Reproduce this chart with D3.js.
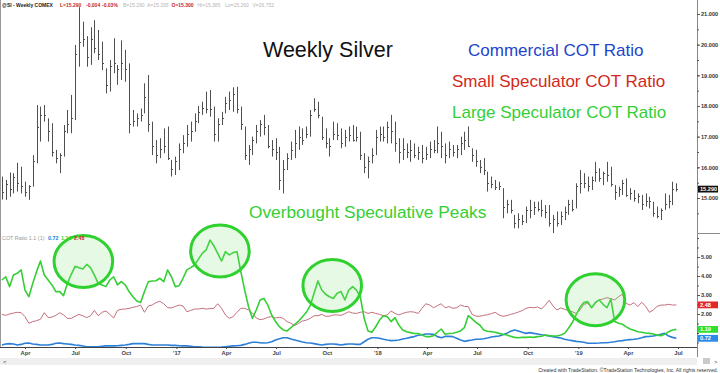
<!DOCTYPE html>
<html>
<head>
<meta charset="utf-8">
<script src="https://cdn.jsdelivr.net/npm/d3@7"></script>
<style>
  body { margin: 0; background: #fff; }
  svg { display: block; font-family: "Liberation Sans", Arial, sans-serif; }
</style>
</head>
<body>
<div id="chart"></div>
<script>
// weekly bars, Friday to Friday
const firstWeek = "2016-02-19";
const lastWeek = "2019-06-28";

const highs = [15.70,15.59,15.83,15.81,16.15,16.02,15.53,15.42,16.40,18.03,17.98,18.03,17.60,17.44,16.57,16.46,17.38,17.87,18.36,19.99,
  21.22,20.75,20.28,20.57,20.80,20.48,20.10,19.23,19.50,20.21,19.34,20.14,19.83,19.39,17.87,17.76,17.92,18.74,19.01,17.49,
  16.89,16.95,17.27,17.33,16.24,16.35,16.78,17.05,17.38,17.49,17.76,18.00,18.14,18.47,18.52,17.98,17.60,17.81,18.30,18.47,
  18.61,18.63,17.98,17.33,16.73,17.00,17.38,17.54,17.71,17.38,16.89,16.95,16.67,16.24,16.46,16.84,17.22,17.33,17.27,17.33,
  17.87,18.25,18.14,17.65,17.27,16.95,17.49,17.44,17.27,17.22,17.33,17.38,17.33,17.16,16.46,16.35,16.62,17.22,17.33,17.33,
  17.49,17.71,17.49,16.95,16.95,16.78,16.89,16.78,16.67,16.73,16.67,16.84,16.89,17.33,17.16,16.78,16.84,16.73,16.73,17.00,
  17.16,17.33,16.62,16.57,16.24,16.30,15.86,15.70,15.59,15.53,15.32,14.94,14.94,14.45,14.50,14.45,14.72,14.94,14.88,14.88,
  14.94,14.77,14.77,14.45,14.56,14.56,14.72,14.94,14.94,15.48,15.91,15.81,15.70,15.70,16.18,15.97,15.86,16.18,16.02,15.42,
  15.37,15.59,15.64,15.32,15.26,15.15,15.10,15.15,15.04,14.88,14.72,14.66,15.15,15.10,15.53,15.48];
const lows = [14.95,14.94,15.04,15.15,15.21,15.15,15.04,14.94,15.37,16.13,16.84,17.49,16.84,16.35,16.13,15.81,16.35,17.11,17.11,17.54,
  19.28,19.93,19.28,19.34,19.72,19.50,19.17,18.41,18.47,19.07,18.69,18.85,18.79,17.11,17.33,17.33,17.49,17.76,17.16,16.40,
  16.13,16.30,16.46,16.24,15.70,15.75,15.91,16.46,16.67,16.84,17.16,17.44,17.71,17.76,17.65,16.84,16.84,17.38,17.76,17.87,
  17.81,17.76,17.22,16.24,16.08,16.40,16.78,17.00,17.05,16.62,16.35,16.24,15.26,15.15,15.91,16.24,16.30,16.57,16.73,16.95,
  17.00,17.81,17.60,16.89,16.62,16.35,16.89,16.89,16.62,16.67,16.84,16.84,16.84,16.24,15.81,15.64,16.13,16.40,16.84,16.84,
  16.78,16.78,16.51,16.13,16.24,16.30,16.18,16.30,16.24,16.13,16.24,16.30,16.46,16.46,16.30,16.13,16.30,16.35,16.30,16.40,
  16.57,16.67,16.18,16.02,15.81,15.75,15.21,15.32,15.26,15.26,14.34,14.50,14.50,14.01,14.01,14.12,14.18,14.34,14.45,14.56,
  14.39,14.34,14.07,13.85,14.07,14.12,14.28,14.45,14.56,14.66,15.15,15.32,15.21,15.26,15.53,15.53,15.42,15.53,15.37,14.94,
  15.04,15.10,15.04,14.94,14.88,14.83,14.61,14.72,14.66,14.39,14.34,14.28,14.61,14.66,14.77,15.21];
const closes = [15.20,15.45,15.30,15.70,15.50,15.40,15.20,15.40,16.20,17.30,17.70,17.70,17.20,16.50,16.30,16.40,17.20,17.40,17.60,19.70,
  20.10,20.20,19.60,20.20,19.90,19.70,19.40,18.70,19.30,19.40,19.20,19.40,19.20,17.40,17.50,17.60,17.70,18.30,17.40,16.70,
  16.40,16.60,16.70,16.30,15.95,16.20,16.60,16.80,17.10,17.20,17.50,17.80,17.95,17.90,17.90,17.10,17.40,17.60,18.10,18.20,
  18.40,17.90,17.40,16.40,16.60,16.90,17.20,17.40,17.30,16.70,16.60,16.50,15.60,15.95,16.30,16.55,16.80,17.00,16.90,17.10,
  17.70,17.90,17.70,17.00,16.80,16.70,17.10,17.05,16.80,17.00,17.05,16.90,17.00,16.40,16.00,16.20,16.40,17.00,17.10,17.00,
  17.30,17.20,16.80,16.50,16.60,16.50,16.55,16.40,16.50,16.30,16.45,16.60,16.55,16.80,16.70,16.40,16.60,16.50,16.60,16.80,
  16.90,16.70,16.40,16.20,16.00,15.90,15.50,15.45,15.35,15.40,14.70,14.80,14.60,14.20,14.30,14.25,14.60,14.60,14.70,14.65,
  14.60,14.55,14.20,14.30,14.20,14.40,14.55,14.80,14.65,15.40,15.50,15.50,15.40,15.60,15.85,15.65,15.80,15.75,15.45,15.20,
  15.30,15.50,15.10,15.15,15.00,15.05,14.80,14.90,14.90,14.50,14.40,14.60,14.80,14.90,15.30,15.29];

// COT ratios
const largeSpec = [3.79,3.96,3.44,4.05,4.14,4.32,3.26,2.91,3.61,4.23,4.79,4.05,3.79,3.53,3.18,3.18,2.97,3.61,4.09,4.51,
  4.44,4.37,4.61,4.44,4.05,3.61,3.53,3.44,3.79,3.96,3.53,3.70,3.53,3.18,2.91,2.68,2.61,3.18,3.70,3.74,
  3.75,3.88,3.70,4.32,3.96,3.44,3.49,3.88,4.32,4.44,4.58,4.89,5.19,5.37,5.89,5.59,5.19,4.79,5.28,5.11,
  5.23,5.28,4.23,3.26,2.38,1.77,2.21,2.74,2.82,2.47,1.95,1.60,1.33,1.16,1.11,1.28,1.46,1.63,1.86,2.09,
  2.44,3.09,3.74,3.26,3.04,2.91,2.82,3.09,3.18,2.74,3.26,3.44,3.26,2.91,1.77,1.11,1.04,1.33,1.68,1.91,
  1.86,1.60,1.81,1.42,1.16,1.07,1.02,0.97,0.97,0.90,0.81,0.81,0.86,1.04,1.21,0.93,0.97,0.99,1.04,1.11,
  1.28,1.91,1.74,1.56,1.42,1.16,1.09,1.07,1.04,0.98,0.93,0.89,0.83,0.77,0.75,0.77,0.77,0.79,0.77,0.81,
  0.83,0.89,0.86,0.84,0.84,0.89,0.98,1.25,1.55,1.95,2.35,2.60,2.65,2.33,2.61,2.74,2.51,2.33,2.79,1.60,
  1.51,1.46,1.32,1.21,1.14,1.07,1.04,1.00,0.98,0.95,0.89,0.86,0.93,1.07,1.16,1.19];
const smallSpec = [1.98,1.93,2.00,2.05,2.09,2.07,1.86,1.51,1.60,1.65,1.72,2.07,1.81,1.84,1.93,2.07,1.95,1.77,1.77,1.88,
  1.98,1.91,1.81,1.91,2.19,1.91,2.09,2.16,1.98,1.79,2.19,2.25,2.26,2.30,2.35,2.39,2.47,2.09,2.42,2.47,
  2.60,2.67,2.54,2.33,2.32,2.40,2.47,2.42,2.12,2.19,2.26,2.26,2.30,2.26,2.28,2.30,2.54,2.30,1.95,1.77,
  1.86,2.09,2.30,2.30,2.21,2.05,1.79,1.70,1.74,1.83,1.86,1.79,1.83,1.77,1.60,1.51,1.39,1.51,1.63,1.68,
  1.77,1.91,1.91,1.98,1.88,1.88,1.95,1.95,1.93,2.02,2.12,2.05,2.03,2.09,2.12,2.03,2.09,2.03,1.98,1.91,
  1.95,2.16,2.03,1.95,2.03,2.09,2.12,2.10,2.03,2.30,2.54,2.47,2.33,2.44,2.54,2.33,2.39,2.30,2.33,2.47,
  2.40,2.39,1.98,1.89,1.88,1.93,1.96,2.02,2.09,1.95,1.88,1.91,1.98,2.03,2.10,2.18,2.30,2.35,2.33,2.37,
  2.26,2.47,2.72,2.42,2.21,2.32,2.25,2.18,2.12,2.03,2.21,2.51,2.56,2.33,2.56,2.75,2.79,2.86,2.81,2.74,
  2.91,3.04,2.56,2.47,2.60,2.39,2.61,2.42,2.09,2.21,2.40,2.47,2.47,2.51,2.47,2.48];
const commercial = [0.37,0.42,0.44,0.42,0.37,0.40,0.46,0.47,0.42,0.40,0.37,0.37,0.37,0.40,0.46,0.47,0.44,0.42,0.40,0.37,
  0.35,0.32,0.28,0.28,0.28,0.28,0.30,0.32,0.32,0.32,0.33,0.35,0.37,0.40,0.44,0.44,0.44,0.44,0.40,0.37,
  0.37,0.37,0.37,0.37,0.35,0.35,0.33,0.32,0.32,0.30,0.28,0.28,0.26,0.25,0.25,0.25,0.25,0.26,0.28,0.30,
  0.32,0.33,0.35,0.40,0.46,0.51,0.51,0.49,0.47,0.49,0.54,0.63,0.70,0.75,0.75,0.68,0.63,0.58,0.53,0.49,
  0.47,0.44,0.40,0.37,0.40,0.42,0.42,0.40,0.37,0.40,0.42,0.42,0.40,0.40,0.54,0.67,0.75,0.75,0.72,0.67,
  0.63,0.60,0.61,0.63,0.68,0.72,0.77,0.81,0.88,0.91,0.95,0.95,0.93,0.81,0.75,0.82,0.82,0.81,0.72,0.63,
  0.56,0.60,0.63,0.67,0.67,0.70,0.74,0.79,0.82,0.84,0.91,0.98,1.09,1.16,1.11,1.04,0.98,1.02,0.98,0.95,
  0.91,0.88,0.84,0.81,0.77,0.74,0.67,0.63,0.60,0.56,0.54,0.51,0.46,0.46,0.46,0.47,0.49,0.49,0.51,0.54,
  0.58,0.60,0.63,0.65,0.67,0.70,0.75,0.81,0.82,0.84,0.88,0.93,0.98,0.84,0.77,0.72];

const priceTicks = [15, 16, 17, 18, 19, 20, 21];
const cotTicks = [2, 3, 4, 5];
const monthTicks = ["2016-04-01","2016-07-01","2016-10-01","2017-01-01","2017-04-01","2017-07-01","2017-10-01",
  "2018-01-01","2018-04-01","2018-07-01","2018-10-01","2019-01-01","2019-04-01","2019-07-01"];
const monthLabels = ["Apr","Jul","Oct","'17","Apr","Jul","Oct","'18","Apr","Jul","Oct","'19","Apr","Jul"];

// circled peaks of the large speculator ratio (date, ratio level)
const peakDates = ["2016-07-16", "2017-03-21", "2017-10-11", "2019-02-01"];
const peakLevels = [4.76, 5.32, 3.50, 2.75];

const W = 720, H = 373;
const plotRight = 697, plotBottom = 347, split = 233;

const GREEN = "#35cf35", RED = "#d2281c", BLUE = "#2244cc";

const svg = d3.select("#chart").append("svg").attr("width", W).attr("height", H);
svg.append("rect").attr("width", W).attr("height", H).attr("fill", "#fff");

const weeks = d3.utcFriday.range(new Date(firstWeek), d3.utcDay.offset(new Date(lastWeek), 1));

const x = d3.scaleUtc()
    .domain([new Date("2016-04-01"), new Date("2019-07-01")])
    .range([25, 678]);
const yPrice = d3.scaleLinear().domain([15, 21]).range([198, 14]);
const yCot = d3.scaleLinear().domain([2, 5]).range([314, 257]);

let defs = svg.append("defs");
defs.append("clipPath").attr("id", "clipTop")
    .append("rect").attr("x", 0).attr("y", 0).attr("width", plotRight).attr("height", split);
defs.append("clipPath").attr("id", "clipLow")
    .append("rect").attr("x", 0).attr("y", split).attr("width", plotRight).attr("height", plotBottom - split);

// price bars (high-low with close tick)
let bars = weeks.map((d, i) => ({date: d, high: highs[i], low: lows[i], close: closes[i]}));
let barG = svg.append("g").attr("clip-path", "url(#clipTop)")
    .attr("stroke", "#505050").attr("stroke-width", 1);
barG.selectAll("line.range")
    .data(bars)
    .join("line")
    .attr("class", "range")
    .attr("x1", d => Math.round(x(d.date)) + 0.5)
    .attr("x2", d => Math.round(x(d.date)) + 0.5)
    .attr("y1", d => yPrice(d.high))
    .attr("y2", d => yPrice(d.low));
barG.selectAll("line.close")
    .data(bars)
    .join("line")
    .attr("class", "close")
    .attr("x1", d => Math.round(x(d.date)) + 0.5)
    .attr("x2", d => Math.round(x(d.date)) + 2)
    .attr("y1", d => Math.round(yPrice(d.close)) + 0.5)
    .attr("y2", d => Math.round(yPrice(d.close)) + 0.5);

// COT lines
let lowG = svg.append("g").attr("clip-path", "url(#clipLow)");
let cotLine = d3.line().x((d, i) => x(weeks[i])).y(d => yCot(d));

let series = [
    {values: smallSpec, color: "#c4707c", width: 1},
    {values: commercial, color: "#2c7fd6", width: 1.6},
    {values: largeSpec, color: GREEN, width: 1.6}
];
lowG.selectAll("path.cot")
    .data(series)
    .join("path")
    .attr("class", "cot")
    .attr("d", d => cotLine(d.values))
    .attr("fill", "none")
    .attr("stroke", d => d.color)
    .attr("stroke-width", d => d.width)
    .attr("stroke-linejoin", "round");

// peak circles
let peaks = peakDates.map((d, i) => ({date: new Date(d), level: peakLevels[i]}));
svg.append("g").selectAll("ellipse")
    .data(peaks)
    .join("ellipse")
    .attr("cx", d => x(d.date))
    .attr("cy", d => yCot(d.level))
    .attr("rx", 29.3)
    .attr("ry", 26)
    .attr("fill", "#7ee07a")
    .attr("fill-opacity", 0.2)
    .attr("stroke", "#2fd12f")
    .attr("stroke-width", 3);

// frame
svg.append("line").attr("x1", 0.5).attr("x2", 0.5).attr("y1", 0).attr("y2", plotBottom)
    .attr("stroke", "#999");
svg.append("line").attr("x1", plotRight + 0.5).attr("x2", plotRight + 0.5).attr("y1", 0).attr("y2", 357)
    .attr("stroke", "#888");
svg.append("line").attr("x1", plotRight).attr("x2", W).attr("y1", split + 0.5).attr("y2", split + 0.5)
    .attr("stroke", "#888");

// right axes
function styleAxis(g, size) {
    g.select(".domain").remove();
    g.selectAll(".tick line").attr("stroke", "#555");
    g.selectAll(".tick text").attr("fill", "#333").attr("font-size", size)
        .attr("font-family", "Liberation Sans, Arial, sans-serif").attr("font-weight", "bold");
}

let priceMinor = d3.range(14.5, 21.6, 0.5);
svg.append("g").attr("transform", `translate(${plotRight},0)`)
    .call(d3.axisRight(yPrice).tickValues(priceMinor).tickFormat("").tickSize(2))
    .call(g => styleAxis(g, 5.6));
svg.append("g").attr("transform", `translate(${plotRight},0)`)
    .call(d3.axisRight(yPrice).tickValues(priceTicks).tickFormat(d3.format(".3f")).tickSize(3).tickPadding(1))
    .call(g => styleAxis(g, 5.6));

let cotMinor = d3.range(0.5, 6.01, 0.5);
svg.append("g").attr("transform", `translate(${plotRight},0)`)
    .call(d3.axisRight(yCot).tickValues(cotMinor).tickFormat("").tickSize(2))
    .call(g => styleAxis(g, 5.6));
svg.append("g").attr("transform", `translate(${plotRight},0)`)
    .call(d3.axisRight(yCot).tickValues(cotTicks).tickFormat(d3.format(".2f")).tickSize(3).tickPadding(1))
    .call(g => styleAxis(g, 5.6));

// last value boxes
function valueBox(yPos, text, fill) {
    let g = svg.append("g");
    g.append("rect").attr("x", plotRight + 1).attr("y", yPos - 3.4).attr("width", 20).attr("height", 6.8)
        .attr("fill", fill);
    g.append("text").attr("x", plotRight + 3).attr("y", yPos + 2).attr("fill", "#fff")
        .attr("font-size", 5.6).attr("font-weight", "bold").text(text);
}
valueBox(yPrice(closes[closes.length - 1]), d3.format(".3f")(closes[closes.length - 1]), "#111");
valueBox(yCot(smallSpec[smallSpec.length - 1]), d3.format(".2f")(smallSpec[smallSpec.length - 1]), "#e2262a");
valueBox(yCot(largeSpec[largeSpec.length - 1]), d3.format(".2f")(largeSpec[largeSpec.length - 1]), "#30e030");
valueBox(yCot(commercial[commercial.length - 1]), d3.format(".2f")(commercial[commercial.length - 1]), "#2b8be8");

// time axis
let xAxis = svg.append("g").attr("transform", `translate(0,${plotBottom})`)
    .call(d3.axisBottom(x)
        .tickValues(monthTicks.map(d => new Date(d)))
        .tickFormat((d, i) => monthLabels[i])
        .tickSize(2).tickPadding(2));
xAxis.select(".domain").attr("d", `M0,0.5H${plotRight}`).attr("stroke", "#444");
xAxis.selectAll(".tick line").attr("stroke", "#444");
xAxis.selectAll(".tick text").attr("fill", "#444").attr("font-size", 5.8).attr("font-weight", "bold")
    .attr("font-family", "Liberation Sans, Arial, sans-serif");

// scroll bar strip
svg.append("rect").attr("x", 0).attr("y", 358).attr("width", plotRight).attr("height", 7).attr("fill", "#efefef");
svg.append("rect").attr("x", 703).attr("y", 358).attr("width", 7).attr("height", 6).attr("fill", "#c9c9c9");
svg.append("text").attr("x", 3).attr("y", 364).attr("font-size", 6).attr("fill", "#444").text("<");
svg.append("text").attr("x", 714).attr("y", 364).attr("font-size", 6).attr("fill", "#444").text(">");
svg.append("text").attr("x", 718).attr("y", 371.5).attr("text-anchor", "end").attr("font-size", 5.1)
    .attr("fill", "#333").text("Created with TradeStation. \u00A9TradeStation Technologies, Inc. All rights reserved.");

// header lines
let header = [
    {t: "@SI - Weekly  COMEX", x: 2, c: "#222", b: true},
    {t: "L=15.290", x: 60, c: "#c8281e", b: true},
    {t: "-0.004", x: 86, c: "#c8281e", b: true},
    {t: "-0.03%", x: 102, c: "#c8281e", b: true},
    {t: "B=15.290", x: 123, c: "#b5b5b5", b: false},
    {t: "A=15.295", x: 147, c: "#b5b5b5", b: false},
    {t: "O=15.300", x: 171.5, c: "#c8281e", b: true},
    {t: "Hi=15.385", x: 197.5, c: "#b5b5b5", b: false},
    {t: "Lo=15.260", x: 225, c: "#b5b5b5", b: false},
    {t: "V=26,752", x: 252.5, c: "#b5b5b5", b: false}
];
svg.append("g").selectAll("text").data(header).join("text")
    .attr("x", d => d.x).attr("y", 7).attr("font-size", 5)
    .attr("font-weight", d => d.b ? "bold" : "normal")
    .attr("fill", d => d.c).text(d => d.t);

let cotHeader = [
    {t: "COT Ratio 1.1 (1)", x: 2, c: "#999"},
    {t: "0.72", x: 48, c: "#2b7fd6"},
    {t: "1.19", x: 61, c: GREEN},
    {t: "2.48", x: 74, c: "#d2281c"}
];
svg.append("g").selectAll("text").data(cotHeader).join("text")
    .attr("x", d => d.x).attr("y", 239.5).attr("font-size", 5.4)
    .attr("font-weight", (d, i) => i ? "bold" : "normal")
    .attr("fill", d => d.c).text(d => d.t);

// annotations
svg.append("text").attr("x", 263).attr("y", 57).attr("font-size", 21.5).attr("fill", "#111").text("Weekly Silver");
let notes = [
    {t: "Commercial COT Ratio", x: 468, y: 56, c: BLUE},
    {t: "Small Speculator COT Ratio", x: 452, y: 87, c: RED},
    {t: "Large Speculator COT Ratio", x: 452, y: 118, c: GREEN}
];
svg.append("g").selectAll("text").data(notes).join("text")
    .attr("x", d => d.x).attr("y", d => d.y)
    .attr("font-size", 17).attr("fill", d => d.c).text(d => d.t);
svg.append("text").attr("x", 249).attr("y", 218).attr("font-size", 17.3).attr("fill", GREEN)
    .text("Overbought Speculative Peaks");
</script>
</body>
</html>
